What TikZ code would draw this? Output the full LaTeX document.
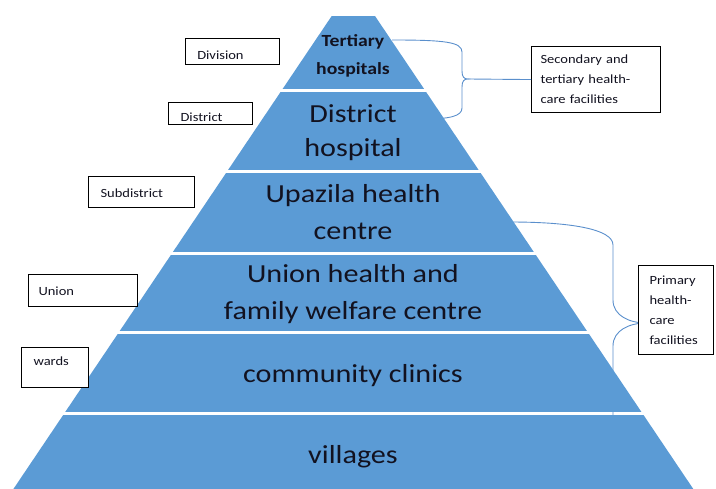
\documentclass[tikz,border=0pt]{standalone}
\usepackage{fontspec}
\setmainfont[FakeStretch=1.16]{Carlito}
\usetikzlibrary{calc}
\definecolor{tierblue}{HTML}{5B9BD5}
\definecolor{bracecol}{HTML}{5A8FCC}
\definecolor{inkcol}{HTML}{121220}
\begin{document}
\begin{tikzpicture}[x=1pt,y=-1pt,
  tier/.style={fill=tierblue},
  tiertext/.style={text=inkcol, align=center, inner sep=0pt,
    font=\fontsize{26}{37}\selectfont},
  lbox/.style={draw=black, line width=1.1pt, fill=white, text=inkcol,
    align=left, anchor=north west, inner ysep=0pt,
    font=\fontsize{12.5}{20}\selectfont},
  brace/.style={draw=bracecol, line width=0.9pt}]
\useasboundingbox (0,0) rectangle (716,489);

% curly braces (partly hidden behind the pyramid)
\coordinate (tipA) at (468,79);
\draw[brace] (392,40) .. controls (445,40) and (462,42) .. (462,52)
  -- (462,71) .. controls (462,77) and (464,79) .. (tipA)
  .. controls (464,79) and (462,81) .. (462,87)
  -- (462,108) .. controls (462,116) and (450,119) .. (425,119);
\coordinate (tipB) at (646,323);
\draw[brace] (510,222) .. controls (570,222) and (613,229) .. (613,245)
  -- (613,300) .. controls (613,316) and (630,323) .. (tipB)
  .. controls (630,323) and (613,330) .. (613,346)
  -- (613,418) .. controls (613,426) and (580,428) .. (510,428);

% pyramid tiers
\begin{scope}
  \clip (331.7,16) -- (375,16) -- (693.3,489) -- (13.4,489) -- cycle;
  \fill[tier] (0,16)    rectangle (716,89.5);
  \fill[tier] (0,92.5)  rectangle (716,170.5);
  \fill[tier] (0,173.5) rectangle (716,252);
  \fill[tier] (0,255)   rectangle (716,331.5);
  \fill[tier] (0,334.5) rectangle (716,412.5);
  \fill[tier] (0,415.5) rectangle (716,489);
\end{scope}

\node[tiertext, font=\bfseries\fontsize{17}{28}\selectfont] (t1) at (353,56) {Tertiary\\hospitals};
\node[tiertext, font=\fontsize{26}{34}\selectfont] (t2) at (353,133) {District\\hospital};
\node[tiertext] (t3) at (353,212) {Upazila health\\centre};
\node[tiertext] (t4) at (353,294) {Union health and\\family welfare centre};
\node[tiertext] (t5) at (353,376) {community clinics};
\node[tiertext] (t6) at (353,457) {villages};

% administrative levels
\node[lbox, minimum height=26, inner xsep=11.7, text width=70.6, text height=16.6, text depth=0] (division) at (185,38) {Division};
\node[lbox, minimum height=22, inner xsep=12, text width=60, text height=16, text depth=0] (district) at (168,102) {District};
\node[lbox, minimum height=31, inner xsep=12, text width=82, text height=11, text depth=0] (subdistrict) at (88,176) {Subdistrict};
\node[lbox, minimum height=32, inner xsep=10, text width=89, text height=10, text depth=0] (union) at (28,274) {Union};
\node[lbox, minimum height=40, inner xsep=12, text width=43, text height=9, text depth=14] (wards) at (21,347) {wards};

% facility groups
\node[lbox, minimum height=66, inner xsep=9, text width=111] (secondary) at (531,46) {Secondary and\\tertiary health-\\care facilities};
\node[lbox, minimum height=89, inner xsep=11, text width=53] (primary) at (638,265) {Primary\\health-\\care\\facilities};

\draw[brace] (tipA) -- (secondary.west);
\end{tikzpicture}
\end{document}
